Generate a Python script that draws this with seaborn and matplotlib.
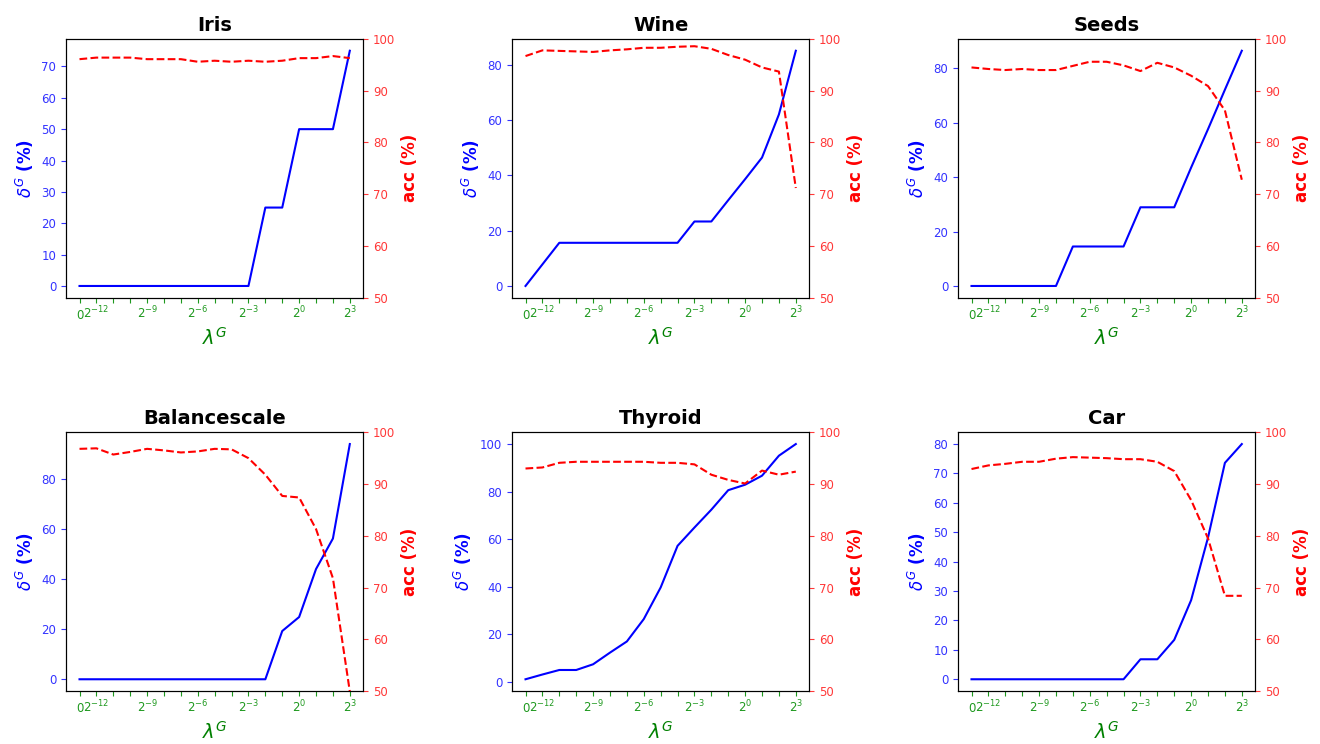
import numpy as np
import pandas as pd
import matplotlib
matplotlib.use('Agg')
import matplotlib.pyplot as plt
import seaborn as sns

# lambda^G grid: index positions 0..16, labelled 0, 2^-12 ... 2^3
lam_idx = list(range(17))
lam_labels = ['0', r'$2^{-12}$', '', '', r'$2^{-9}$', '', '', r'$2^{-6}$', '', '',
              r'$2^{-3}$', '', '', r'$2^{0}$', '', '', r'$2^{3}$']

names = ['Iris', 'Wine', 'Seeds', 'Balancescale', 'Thyroid', 'Car']

iris_delta = [0, 0, 0, 0, 0, 0, 0, 0, 0, 0, 0, 25, 25, 50, 50, 50, 75]
iris_acc = [96.1, 96.4, 96.4, 96.4, 96.1, 96.1, 96.1, 95.6, 95.8, 95.6, 95.8, 95.6, 95.8, 96.3, 96.3, 96.7, 96.3]

wine_delta = [0, 7.8, 15.6, 15.6, 15.6, 15.6, 15.6, 15.6, 15.6, 15.6, 23.3, 23.3, 31.0, 38.6, 46.4, 62.0, 85.0]
wine_acc = [96.7, 97.8, 97.7, 97.6, 97.5, 97.8, 98.0, 98.3, 98.3, 98.5, 98.6, 98.1, 96.9, 96.0, 94.5, 93.7, 71.2]

seeds_delta = [0, 0, 0, 0, 0, 0, 14.5, 14.5, 14.5, 14.5, 28.9, 28.9, 28.9, 43.5, 57.6, 72.1, 86.4]
seeds_acc = [94.5, 94.2, 94.0, 94.2, 94.0, 94.0, 94.8, 95.6, 95.6, 94.9, 93.8, 95.4, 94.5, 92.9, 90.9, 86.2, 72.8]

balance_delta = [0, 0, 0, 0, 0, 0, 0, 0, 0, 0, 0, 0, 19.3, 24.9, 44.1, 56.3, 94.1]
balance_acc = [96.8, 96.9, 95.7, 96.2, 96.8, 96.5, 96.1, 96.3, 96.8, 96.7, 95.0, 91.8, 87.7, 87.4, 81.3, 71.8, 49.9]

thyroid_delta = [1.1, 3.1, 5.0, 5.0, 7.4, 12.3, 17.0, 26.4, 39.7, 57.2, 64.9, 72.4, 80.6, 82.9, 86.7, 95.1, 100.0]
thyroid_acc = [93.0, 93.2, 94.1, 94.3, 94.3, 94.3, 94.3, 94.3, 94.1, 94.1, 93.8, 91.8, 90.8, 90.1, 92.6, 91.8, 92.4]

car_delta = [0, 0, 0, 0, 0, 0, 0, 0, 0, 0, 6.8, 6.8, 13.4, 26.9, 48.2, 73.6, 80.0]
car_acc = [92.9, 93.6, 93.9, 94.3, 94.3, 94.9, 95.2, 95.1, 95.0, 94.8, 94.8, 94.3, 92.5, 86.9, 79.5, 68.4, 68.4]

deltas = [iris_delta, wine_delta, seeds_delta, balance_delta, thyroid_delta, car_delta]
accs = [iris_acc, wine_acc, seeds_acc, balance_acc, thyroid_acc, car_acc]

BLUE_TICK = (0.2, 0.2, 1.0)
RED_TICK = (1.0, 0.22, 0.22)
GREEN_TICK = (0.12, 0.6, 0.12)


def draw_panel(ax, name, delta, acc):
    df = pd.DataFrame({'lam': lam_idx, 'delta': delta, 'acc': acc})
    sns.lineplot(data=df, x='lam', y='delta', ax=ax, color='blue', linewidth=1.5)
    ax.set_title(name, fontsize=14, fontweight='bold')
    ax.set_ylabel(r'$\delta^G$ (%)', color='blue', fontsize=12, fontweight='bold')
    ax.set_xlabel(r'$\lambda^G$', color='green', fontsize=14)
    ax.tick_params(axis='y', colors=BLUE_TICK, labelsize=8.5)
    # baseline-aligned so that "0" sits level with the 2^k labels
    ax.tick_params(axis='x', colors=GREEN_TICK, labelsize=8.5, pad=11.5)
    ax.set_xticks(lam_idx)
    ax.set_xticklabels(lam_labels, va='baseline')

    ax2 = ax.twinx()
    sns.lineplot(data=df, x='lam', y='acc', ax=ax2, color='red', linestyle='--', linewidth=1.5)
    ax2.set_ylim(50, 100)
    ax2.set_ylabel('acc (%)', color='red', fontsize=12, fontweight='bold')
    ax2.tick_params(axis='y', colors=RED_TICK, labelsize=8.5)


fig, axes = plt.subplots(2, 3, figsize=(13.2, 7.44), dpi=100)
fig.subplots_adjust(left=0.05, right=0.951, top=0.9476, bottom=0.0712, wspace=0.5, hspace=0.52)

for ax, name, d, a in zip(axes.flat, names, deltas, accs):
    draw_panel(ax, name, d, a)

fig.savefig('out.png', dpi=100)
